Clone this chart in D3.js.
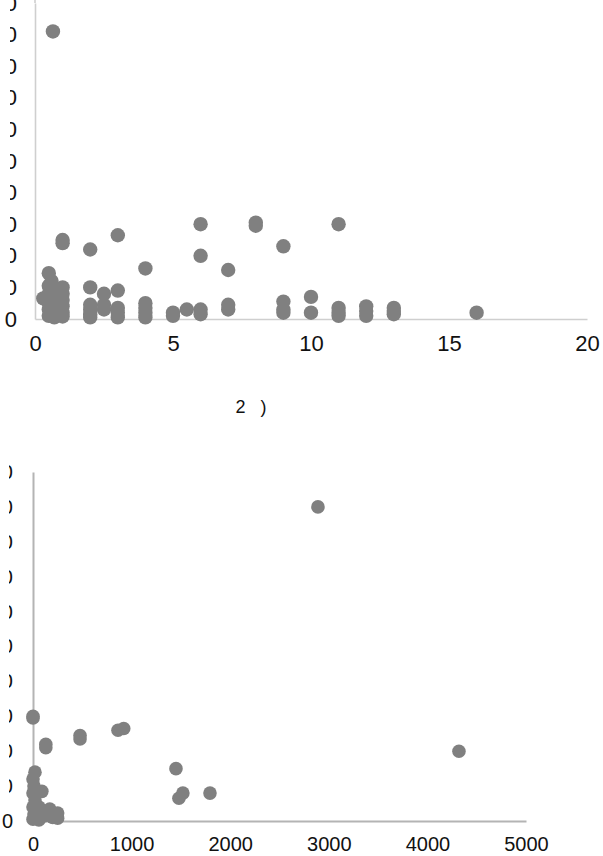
<!DOCTYPE html>
<html>
<head>
<meta charset="utf-8">
<script src="https://cdn.jsdelivr.net/npm/d3@7"></script>
<style>
  html, body { margin: 0; padding: 0; background: #fff; }
  svg { display: block; }
  text { font-family: "Liberation Sans", Arial, sans-serif; fill: #111; }
</style>
</head>
<body>
<svg id="chart" width="603" height="856"></svg>
<script>
// ---- Top chart data ----
const topX = [0.65, 1, 1, 2, 3, 6, 6, 8, 8, 9, 4, 7, 11, 10, 10, 16,
  0.3, 0.5, 0.5, 0.5, 0.5, 0.5, 0.5, 0.6, 0.6, 0.6, 0.7, 0.7, 0.7, 0.8, 0.8, 1, 1, 1, 1, 1, 1, 0.9,
  2, 2, 2, 2, 2, 2.5, 2.5, 2.5, 3, 3, 3, 3, 4, 4, 4, 4, 5, 5, 5.5, 6, 6, 7, 7, 9, 9, 9,
  11, 11, 11, 12, 12, 12, 13, 13, 13];
const topY = [91, 25, 24, 22, 26.5, 30, 20, 30.5, 29.5, 23, 16, 15.5, 30, 7, 2, 2,
  6.5, 14.5, 10.5, 8, 5, 3, 1, 12, 6, 2, 9, 4, 0.5, 7, 3, 10, 8, 6, 4, 2, 0.8, 5,
  10, 4.5, 3, 1.5, 0.5, 8, 4.5, 3, 9, 3.5, 2, 0.5, 5, 3.5, 2, 0.5, 2, 1, 3, 3, 1.5, 4.5, 3, 5.5, 3, 2,
  3.5, 2, 1, 4, 2.5, 1, 3.5, 2.5, 1.5];
const topXTicks = [0, 5, 10, 15, 20];
const topYTicks = [0, 10, 20, 30, 40, 50, 60, 70, 80, 90, 100];
const topTitle = "2 )";

// ---- Bottom chart data ----
const botX = [2890, 4320, 1795, 0, 0, 130, 130, 477, 477, 862, 920, 1450, 1480, 1520,
  20, 0, 10, 0, 20, 0, 10, 0, 90, 60, 40, 170, 250, 200, 120, 250, 60];
const botY = [90, 20, 8, 30, 29.5, 22, 21, 24.5, 23.5, 26, 26.5, 15, 6.5, 8,
  14, 12, 10, 8, 6, 4, 2, 0.5, 8.5, 4, 1, 3.4, 2.3, 1, 1.5, 0.8, 0.3];
const botXTicks = [0, 1000, 2000, 3000, 4000, 5000];
const botYTicks = [0, 10, 20, 30, 40, 50, 60, 70, 80, 90, 100];

const svg = d3.select("#chart");
const defs = svg.append("defs");
const FONT = '"Liberation Sans", Arial, sans-serif';

function drawPanel(cfg) {
  const x = d3.scaleLinear().domain(cfg.xDomain).range(cfg.xRange);
  const y = d3.scaleLinear().domain(cfg.yDomain).range(cfg.yRange);
  const g = svg.append("g");

  // clip for cut-off y labels (left part hidden, as in the reference)
  defs.append("clipPath").attr("id", cfg.id + "clip")
    .append("rect").attr("x", cfg.clipX).attr("y", 0).attr("width", 100).attr("height", 856);

  // x axis
  const xa = g.append("g").attr("transform", `translate(0,${cfg.yRange[0]})`)
    .call(d3.axisBottom(x).tickValues(cfg.xTicks).tickFormat(d3.format("d"))
      .tickSize(0).tickSizeOuter(0).tickPadding(cfg.xPad));
  xa.select(".domain").attr("stroke", cfg.axisColor).attr("stroke-width", cfg.axisWidth);
  xa.selectAll("text").attr("font-size", cfg.xFont).attr("fill", "#111").style("font-family", FONT);

  // y axis
  const ya = g.append("g").attr("transform", `translate(${cfg.xRange[0]},0)`)
    .call(d3.axisLeft(y).tickValues(cfg.yTicks).tickFormat(d3.format("d"))
      .tickSize(0).tickSizeOuter(0).tickPadding(cfg.yPad));
  ya.select(".domain").attr("stroke", cfg.axisColor).attr("stroke-width", cfg.axisWidth);
  ya.selectAll("text").attr("font-size", cfg.yFont).attr("fill", "#111")
    .attr("text-anchor", "end").style("font-family", FONT);
  if (cfg.axisTop !== undefined) {
    g.append("line").attr("x1", cfg.xRange[0]).attr("x2", cfg.xRange[0])
      .attr("y1", cfg.yRange[1]).attr("y2", cfg.axisTop)
      .attr("stroke", cfg.axisColor).attr("stroke-width", cfg.axisWidth);
  }
  // move non-zero tick labels into a clipped group (clip in absolute coords)
  const clipped = g.append("g").attr("clip-path", `url(#${cfg.id}clip)`);
  ya.selectAll(".tick").filter(d => d !== 0).each(function() {
    const tr = d3.select(this).attr("transform");
    clipped.node().appendChild(this);
    d3.select(this).attr("transform", `translate(${cfg.xRange[0]},0) ${tr}`);
  });

  // points
  g.append("g").selectAll("circle")
    .data(cfg.xs.map((v, i) => [v, cfg.ys[i]]))
    .join("circle")
    .attr("cx", d => x(d[0]))
    .attr("cy", d => y(d[1]))
    .attr("r", cfg.r)
    .attr("fill", "#808080");
}

drawPanel({
  id: "top", xs: topX, ys: topY,
  xDomain: [0, 20], xRange: [35, 587],
  yDomain: [0, 100], yRange: [319, 3], axisTop: 0,
  xTicks: topXTicks, yTicks: topYTicks,
  xFont: 22, yFont: 22, xPad: 16, yPad: 18, clipX: 10,
  axisColor: "#cfcfcf", axisWidth: 1.6, r: 7.2
});

svg.append("text").attr("x", 251).attr("y", 413).attr("text-anchor", "middle")
  .attr("font-size", 18).attr("word-spacing", 10).text(topTitle);

drawPanel({
  id: "bot", xs: botX, ys: botY,
  xDomain: [0, 5000], xRange: [33, 526],
  yDomain: [0, 100], yRange: [821, 472],
  xTicks: botXTicks, yTicks: botYTicks,
  xFont: 20, yFont: 20, xPad: 16, yPad: 20, clipX: 9,
  axisColor: "#b4b4b4", axisWidth: 2, r: 6.8
});
</script>
</body>
</html>
